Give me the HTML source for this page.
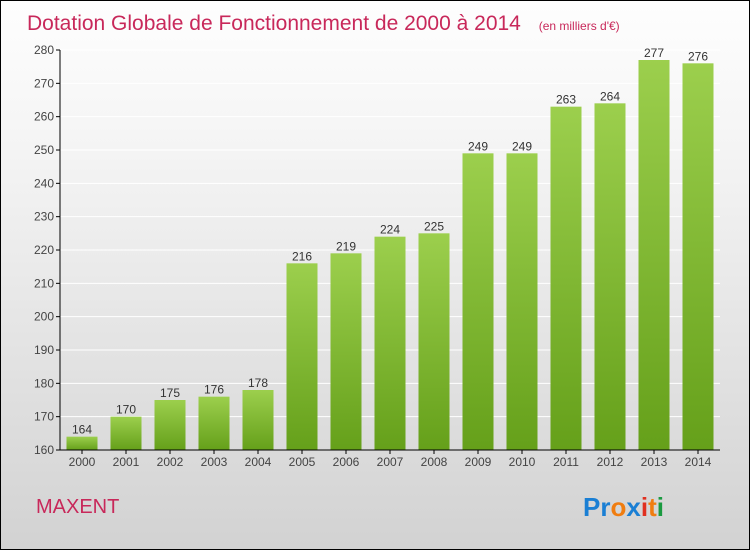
<!DOCTYPE html>
<html><head><meta charset="utf-8"><style>
body{margin:0}
#c{width:750px;height:550px;position:relative;box-sizing:border-box;border:1px solid #000;background:linear-gradient(#fefefe,#f3f3f3 30%,#d2d2d2);font-family:"Liberation Sans",sans-serif;overflow:hidden}
</style></head><body>
<div id="c">
<svg width="750" height="550" style="position:absolute;left:-1px;top:-1px" id="s">
<defs><linearGradient id="g" x1="0" x2="0" y1="0" y2="1"><stop offset="0" stop-color="#9ccf4d"/><stop offset="1" stop-color="#65a01a"/></linearGradient></defs>
<text x="27" y="30" font-size="21" fill="#c8285a">Dotation Globale de Fonctionnement de 2000 à 2014 <tspan font-size="12" dx="12">(en milliers d'€)</tspan></text>
<text x="36" y="513" font-size="20" fill="#c8285a">MAXENT</text>
<text x="583" y="516" font-size="26" font-weight="bold"><tspan fill="#1a7fd4">Pr</tspan><tspan fill="#f07d10">o</tspan><tspan fill="#1a7fd4">x</tspan><tspan fill="#e03020">i</tspan><tspan fill="#f07d10">t</tspan><tspan fill="#1a9a40">i</tspan></text>
<g id="plot"></g>
</svg>
</div>
<script>
const categories=["2000","2001","2002","2003","2004","2005","2006","2007","2008","2009","2010","2011","2012","2013","2014"];
const values=[164,170,175,176,178,216,219,224,225,249,249,263,264,277,276];
const ticks=[160,170,180,190,200,210,220,230,240,250,260,270,280];
const ns="http://www.w3.org/2000/svg",g=document.getElementById('plot');
const y=v=>450-(v-160)*400/120, x=i=>60+44*i+22;
function el(t,a){const e=document.createElementNS(ns,t);for(const k in a)e.setAttribute(k,a[k]);g.appendChild(e);return e;}
ticks.forEach(t=>{
 const l=el('line',{x1:60,x2:720,y1:y(t),y2:y(t),stroke:'#fff','stroke-width':1});
 
 
 const k=el('line',{x1:56,x2:60,y1:y(t),y2:y(t),stroke:'#000'});
 
 
 const tx=el('text',{x:54,y:y(t)+4,'font-size':12,fill:'#444','text-anchor':'end'});tx.textContent=t;
 
 
});
categories.forEach((c,i)=>{
 const r=el('rect',{x:x(i)-15.5,y:y(values[i]),width:31,height:450-y(values[i]),fill:'url(#g)'});
 
 
 const v=el('text',{x:x(i),y:y(values[i])-3,'font-size':12,fill:'#333','text-anchor':'middle'});v.textContent=values[i];
 
 
 const tx=el('text',{x:x(i),y:466,'font-size':12,fill:'#444','text-anchor':'middle'});tx.textContent=c;
 
 
 const k=el('line',{x1:x(i),x2:x(i),y1:450,y2:454,stroke:'#000'});
 
 
});
const ya=el('line',{x1:60,x2:60,y1:50,y2:450,stroke:'#000'});


const xa=el('line',{x1:60,x2:720,y1:450,y2:450,stroke:'#000'});


</script>
</body></html>
